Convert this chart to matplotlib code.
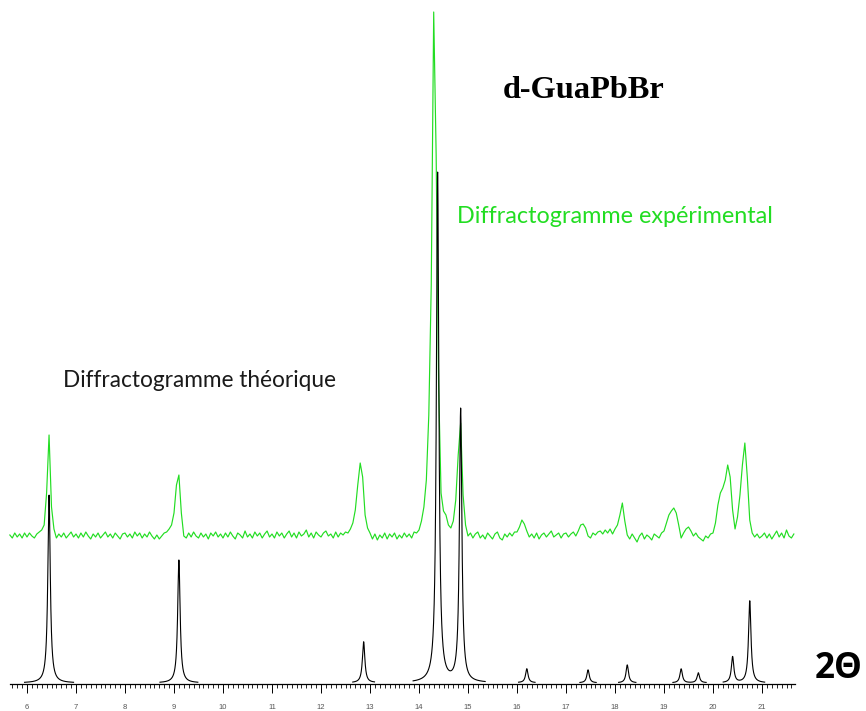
import numpy as np
import matplotlib
matplotlib.use("Agg")
import matplotlib.pyplot as plt
from matplotlib.ticker import FixedLocator

# theoretical pattern: reflection positions (2theta, deg) and peak heights
theo_pos = [6.45, 9.10, 12.87, 14.38, 14.85, 16.20, 17.45, 18.25, 19.35, 19.70, 20.40, 20.75]
theo_int = [188, 123, 41, 510, 273, 14, 13, 18, 14, 10, 26, 82]
theo_fwhm = 0.06

# experimental pattern, one value every 0.05 deg starting at 5.65
exp_start = 5.65
exp_step = 0.05
exp_counts = [
    20, 17, 22, 18, 21, 17, 22,                                                       # 5.65-5.95
    18, 22, 19, 17, 21, 23, 25, 30, 62, 120, 48, 26, 17, 21, 18, 22, 17, 20, 23, 18,  # 6
    21, 17, 22, 18, 23, 19, 16, 21, 18, 22, 17, 20, 23, 18, 21, 17, 22, 19, 16, 21,   # 7
    22, 18, 21, 17, 23, 19, 22, 17, 21, 18, 23, 19, 16, 20, 16, 19, 22, 23, 26, 30,   # 8
    42, 70, 80, 42, 19, 17, 22, 18, 23, 19, 17, 22, 18, 21, 16, 22, 19, 23, 18, 21,   # 9
    17, 22, 18, 23, 19, 16, 22, 20, 17, 24, 18, 21, 17, 23, 19, 22, 17, 21, 24, 18,   # 10
    21, 17, 23, 19, 22, 17, 21, 24, 18, 22, 17, 23, 19, 21, 25, 18, 22, 17, 23, 20,   # 11
    18, 22, 24, 19, 21, 17, 23, 18, 22, 20, 23, 22, 26, 32, 45, 70, 92, 78, 40, 27,   # 12
    22, 16, 21, 15, 20, 17, 22, 16, 21, 18, 22, 16, 20, 17, 22, 18, 21, 17, 23, 22,   # 13
    25, 34, 48, 75, 140, 270, 543, 400, 170, 62, 44, 40, 30, 27, 34, 55, 100, 132, 60, 30,  # 14
    19, 22, 17, 21, 23, 17, 20, 16, 22, 19, 16, 21, 23, 17, 15, 21, 18, 22, 19, 23,   # 15
    23, 28, 35, 31, 24, 18, 21, 17, 22, 16, 20, 22, 18, 21, 24, 18, 20, 22, 17, 21,   # 16
    22, 18, 21, 23, 19, 24, 30, 31, 27, 19, 17, 22, 20, 23, 24, 21, 25, 22, 26, 21,   # 17
    26, 30, 40, 52, 34, 20, 16, 21, 17, 13, 19, 22, 16, 20, 18, 15, 21, 19, 17, 22,   # 18
    24, 32, 40, 44, 47, 42, 30, 17, 22, 26, 28, 24, 19, 22, 18, 16, 14, 19, 17, 21,   # 19
    22, 32, 50, 62, 67, 75, 90, 78, 45, 26, 38, 60, 90, 112, 78, 35, 22, 18, 21, 17,  # 20
    19, 22, 17, 21, 16, 20, 24, 18, 22, 17, 25, 19, 17, 21,                           # 21-21.65
]
assert len(exp_counts) == 321

W, H = 866, 711
green = "#22dd22"

fig = plt.figure(figsize=(W / 100, H / 100), dpi=100)
ax = fig.add_axes([0, 0, 1, 1])
# 49 px per degree, 6 deg at x=27 px; y in px above the axis line
ax.set_xlim(6 - 27 / 49, 6 + (W - 27) / 49)
ax.set_ylim(683 - H, 683)

theta = exp_start + exp_step * np.arange(len(exp_counts))
ax.plot(theta, np.array(exp_counts) + 128, color=green, lw=0.85)

# calculated pattern only drawn around its reflections
def profile(x):
    g = theo_fwhm / 2
    y = np.zeros_like(x)
    for p, h in zip(theo_pos, theo_int):
        y += h * g**2 / ((x - p) ** 2 + g**2)
    return y

windows = []
for p, h in zip(theo_pos, theo_int):
    w = min(0.5, 0.14 + 0.002 * h)
    if windows and p - w <= windows[-1][1]:
        windows[-1][1] = p + w
    else:
        windows.append([p - w, p + w])
for a, b in windows:
    x = np.linspace(a, b, 600)
    ax.plot(x, profile(x), color="black", lw=0.8)

for s in ["left", "right", "top"]:
    ax.spines[s].set_visible(False)
ax.spines["bottom"].set_position(("data", -1))
ax.spines["bottom"].set_bounds(5.65, 21.67)
ax.spines["bottom"].set_linewidth(0.9)
ax.set_yticks([])
ax.set_xticks(range(6, 22))
ax.xaxis.set_minor_locator(FixedLocator(np.round(np.arange(5.7, 21.65, 0.1), 1)))
ax.tick_params(axis="x", which="major", direction="out", length=6.5, width=0.7,
               pad=8, labelsize=5.5, labelcolor="#555555")
ax.tick_params(axis="x", which="minor", direction="out", length=3, width=0.6)
for lab in ax.get_xticklabels():
    lab.set_fontfamily("Liberation Sans")

def fit_width(txt, width_px):
    r = fig.canvas.get_renderer()
    w = txt.get_window_extent(r).width
    txt.set_fontsize(txt.get_fontsize() * width_px / w)

t1 = fig.text(584 / W, 1 - 98 / H, "d-GuaPbBr", ha="center", va="baseline",
              fontfamily="Liberation Serif", fontweight="bold", fontsize=18)
t2 = fig.text(457 / W, 1 - 223 / H, "Diffractogramme expérimental", ha="left",
              va="baseline", color=green, fontfamily="Lato", fontsize=17)
t3 = fig.text(63 / W, 1 - 387 / H, "Diffractogramme théorique", ha="left",
              va="baseline", color="#1a1a1a", fontfamily="Lato", fontsize=16)
t4 = fig.text(815 / W, 1 - 678 / H, "2Θ", ha="left", va="baseline",
              fontfamily=["Open Sans", "DejaVu Sans"], fontweight="bold", fontsize=20)
fig.canvas.draw()
fit_width(t1, 162)
fit_width(t2, 316)
fit_width(t3, 274)
fit_width(t4, 48)

fig.savefig("out.png", dpi=100)
